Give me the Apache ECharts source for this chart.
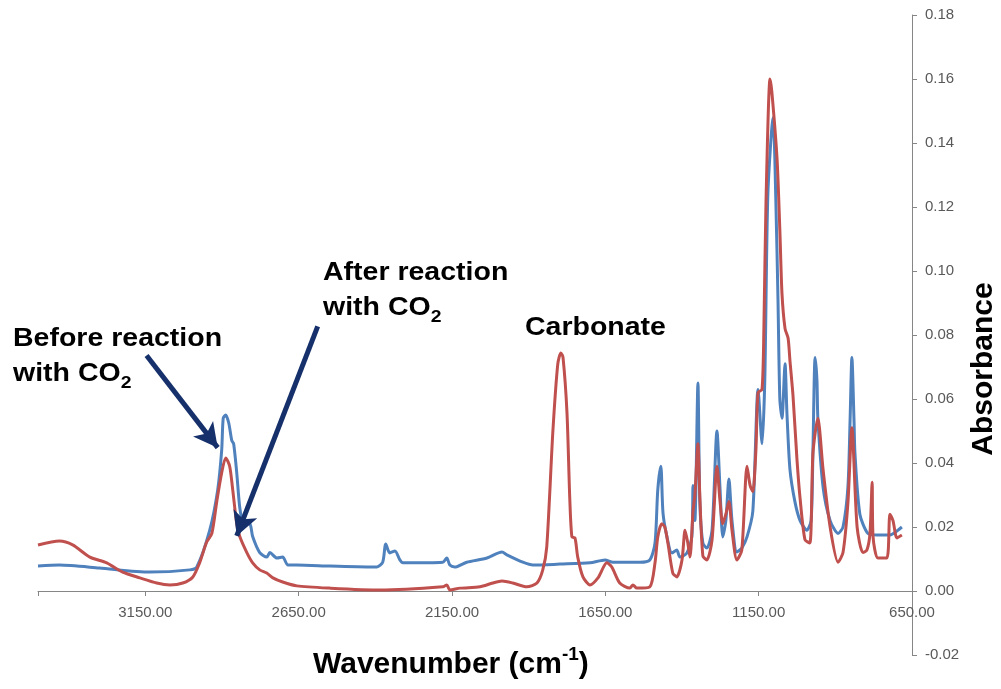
<!DOCTYPE html>
<html>
<head>
<meta charset="utf-8">
<script src="https://cdn.jsdelivr.net/npm/echarts@6/dist/echarts.min.js"></script>
<style>
  html, body { margin: 0; padding: 0; background: #fff; }
  #chart { width: 1001px; height: 689px; }
</style>
</head>
<body>
<div id="chart"></div>
<script>
  // x ticks (cm-1)
  const xTicks = [3150, 2650, 2150, 1650, 1150, 650];

  // before reaction with CO2 (blue)
  const beforeWn = [3500, 3430, 3300, 3136, 3005, 2982, 2940, 2914, 2901, 2896, 2888, 2878, 2868, 2862, 2852, 2842, 2832, 2809, 2800, 2777,
    2754, 2744, 2721, 2702, 2685, 2656, 2548, 2395, 2376, 2366, 2353, 2336, 2320, 2310, 2180, 2167, 2157, 2141, 2102, 2036,
    1987, 1971, 1919, 1886, 1798, 1700, 1651, 1625, 1537, 1505, 1488, 1479, 1469, 1462, 1449, 1433, 1417, 1407, 1384, 1368,
    1364, 1358, 1348, 1342, 1332, 1319, 1302, 1286, 1276, 1267, 1257, 1247, 1237, 1221, 1205, 1188, 1169, 1152, 1139, 1130,
    1120, 1103, 1094, 1087, 1081, 1074, 1064, 1058, 1048, 1032, 1015, 993, 979, 973, 966, 960, 957, 940, 917, 891,
    875, 859, 852, 846, 839, 836, 820, 794, 764, 722, 696, 683];
  const beforeAbs = [0.0078, 0.0081, 0.0072, 0.0059, 0.0066, 0.0075, 0.019, 0.0316, 0.044, 0.054, 0.055, 0.0525, 0.047, 0.046, 0.037, 0.026, 0.022, 0.021, 0.017, 0.012,
    0.0106, 0.012, 0.0103, 0.0106, 0.0081, 0.0081, 0.0078, 0.0075, 0.009, 0.0147, 0.0119, 0.0125, 0.0097, 0.0088, 0.009, 0.0103, 0.0081, 0.0075, 0.009, 0.0103,
    0.0122, 0.0113, 0.009, 0.0081, 0.0084, 0.0088, 0.0097, 0.009, 0.009, 0.0097, 0.015, 0.0316, 0.039, 0.0244, 0.0169, 0.0119, 0.0128, 0.0106, 0.0119, 0.0169,
    0.033, 0.022, 0.065, 0.028, 0.015, 0.0134, 0.019, 0.050, 0.032, 0.0169, 0.022, 0.035, 0.022, 0.0122, 0.0134, 0.0169, 0.025, 0.063, 0.046, 0.066,
    0.124, 0.148, 0.122, 0.091, 0.060, 0.054, 0.071, 0.056, 0.038, 0.028, 0.022, 0.019, 0.022, 0.044, 0.073, 0.066, 0.054, 0.0325, 0.022, 0.018,
    0.020, 0.0325, 0.053, 0.073, 0.053, 0.043, 0.024, 0.018, 0.0175, 0.0175, 0.019, 0.020];

  // after reaction with CO2 (red)
  const afterWn = [3500, 3430, 3387, 3331, 3276, 3224, 3168, 3113, 3070, 3028, 2995, 2973, 2950, 2933, 2917, 2901, 2888, 2875, 2865, 2852,
    2842, 2819, 2800, 2777, 2754, 2734, 2702, 2656, 2550, 2385, 2180, 2167, 2157, 2124, 2059, 2017, 1987, 1952, 1906, 1873,
    1854, 1841, 1821, 1805, 1795, 1788, 1775, 1766, 1759, 1749, 1740, 1723, 1700, 1674, 1645, 1629, 1603, 1570, 1560, 1547,
    1505, 1488, 1479, 1466, 1456, 1446, 1430, 1417, 1400, 1390, 1381, 1374, 1364, 1358, 1348, 1342, 1332, 1319, 1302, 1286,
    1276, 1267, 1257, 1247, 1237, 1221, 1205, 1188, 1178, 1169, 1159, 1152, 1139, 1133, 1126, 1113, 1107, 1090, 1081, 1074,
    1064, 1054, 1048, 1038, 1025, 1015, 999, 983, 973, 957, 940, 917, 891, 875, 859, 846, 829, 810, 797, 787,
    780, 777, 761, 732, 722, 712, 699, 683];
  const afterAbs = [0.0144, 0.0156, 0.0144, 0.0106, 0.0088, 0.0059, 0.0041, 0.0025, 0.0019, 0.0025, 0.0044, 0.0088, 0.0153, 0.018, 0.028, 0.037, 0.0416, 0.039, 0.0316, 0.021,
    0.017, 0.012, 0.0088, 0.0066, 0.0056, 0.0041, 0.0028, 0.0016, 0.0009, 0.0003, 0.0013, 0.0019, 0.0003, 0.0009, 0.0013, 0.0025, 0.0031, 0.0025, 0.0013, 0.0025,
    0.0066, 0.0138, 0.050, 0.071, 0.0744, 0.073, 0.0556, 0.029, 0.0169, 0.0166, 0.0106, 0.0044, 0.0019, 0.0041, 0.0088, 0.0075, 0.0025, 0.0009, 0.0019, 0.0009,
    0.0013, 0.0088, 0.0169, 0.021, 0.020, 0.015, 0.0056, 0.0044, 0.0097, 0.019, 0.015, 0.0106, 0.025, 0.030, 0.046, 0.030, 0.011, 0.0097, 0.016, 0.039,
    0.028, 0.021, 0.024, 0.028, 0.019, 0.0097, 0.0128, 0.039, 0.033, 0.031, 0.044, 0.062, 0.063, 0.082, 0.122, 0.160, 0.156, 0.135, 0.113, 0.093,
    0.082, 0.079, 0.072, 0.061, 0.041, 0.029, 0.016, 0.015, 0.043, 0.054, 0.038, 0.020, 0.009, 0.012, 0.0275, 0.051, 0.020, 0.012, 0.0128, 0.018,
    0.034, 0.017, 0.0103, 0.0103, 0.024, 0.022, 0.0166, 0.0175];

  // annotation arrows, [wavenumber, absorbance] from -> to
  const arrowBefore = [[3146, 0.0736], [2914, 0.0448]];
  const arrowAfter = [[2588, 0.0827], [2852, 0.0172]];

  const zip = (xs, ys) => xs.map((x, i) => [x, ys[i]]);
  const arrowLine = pair => [{ coord: pair[0], symbol: "none" }, { coord: pair[1], symbol: "arrow" }];

  const chart = echarts.init(document.getElementById("chart"));

  const font = '"Liberation Sans", Arial, sans-serif';
  const noteMain = { fontFamily: font, fontWeight: "bold", fontSize: 25, lineHeight: 35, fill: "#000" };
  const noteSub = { fontFamily: font, fontWeight: "bold", fontSize: 17, lineHeight: 17, verticalAlign: "bottom", fill: "#000" };

  const option = {
    animation: false,
    grid: { left: 38, right: 89, top: 15, bottom: 34, outerBoundsMode: "none" },
    xAxis: {
      type: "value",
      inverse: true,
      min: 650,
      max: 3500,
      interval: 500,
      axisLine: { onZero: true, lineStyle: { color: "#868686", width: 1 } },
      axisTick: { show: true, length: 5, lineStyle: { color: "#868686" } },
      axisLabel: {
        color: "#595959",
        fontFamily: font,
        fontSize: 15,
        margin: -50,
        formatter: v => (xTicks.indexOf(v) >= 0 ? v.toFixed(2) : "")
      },
      splitLine: { show: false }
    },
    yAxis: {
      type: "value",
      position: "right",
      min: -0.02,
      max: 0.18,
      interval: 0.02,
      axisLine: { show: true, lineStyle: { color: "#868686", width: 1 } },
      axisTick: { show: true, length: 5, lineStyle: { color: "#868686" } },
      axisLabel: {
        color: "#595959",
        fontFamily: font,
        fontSize: 15,
        margin: 13,
        formatter: v => v.toFixed(2)
      },
      splitLine: { show: false }
    },
    series: [
      {
        name: "Before reaction with CO2",
        type: "line",
        data: zip(beforeWn, beforeAbs),
        showSymbol: false,
        smooth: 0.25,
        lineStyle: { color: "#4F81BD", width: 3 },
        itemStyle: { color: "#4F81BD" },
        markLine: {
          silent: true,
          symbolSize: [19, 24],
          label: { show: false },
          lineStyle: { color: "#16306B", width: 5, type: "solid" },
          data: [arrowLine(arrowBefore), arrowLine(arrowAfter)]
        }
      },
      {
        name: "After reaction with CO2",
        type: "line",
        data: zip(afterWn, afterAbs),
        showSymbol: false,
        smooth: 0.25,
        lineStyle: { color: "#C0504D", width: 3 },
        itemStyle: { color: "#C0504D" }
      }
    ],
    graphic: [
      {
        type: "text", left: 13, top: 327, scaleX: 1.14,
        style: { text: "{a|Before reaction}\n{a|with CO}{s|2}", rich: { a: noteMain, s: noteSub } }
      },
      {
        type: "text", left: 323, top: 261, scaleX: 1.14,
        style: { text: "{a|After reaction}\n{a|with CO}{s|2}", rich: { a: noteMain, s: noteSub } }
      },
      {
        type: "text", left: 525, top: 316, scaleX: 1.14,
        style: { text: "Carbonate", fontFamily: font, fontWeight: "bold", fontSize: 25, fill: "#000" }
      },
      {
        type: "text", left: 313, top: 645,
        style: {
          text: "{a|Wavenumber (cm}{s|-1}{a|)}",
          rich: {
            a: { fontFamily: font, fontWeight: "bold", fontSize: 30, lineHeight: 40, fill: "#000" },
            s: { fontFamily: font, fontWeight: "bold", fontSize: 19, lineHeight: 19, verticalAlign: "top", fill: "#000" }
          }
        }
      },
      {
        type: "text", x: 984, y: 369, rotation: Math.PI / 2,
        style: {
          text: "Absorbance", fontFamily: font, fontWeight: "bold", fontSize: 30, fill: "#000",
          align: "center", verticalAlign: "middle"
        }
      }
    ]
  };

  chart.setOption(option);
  window.addEventListener("resize", () => chart.resize());
</script>
</body>
</html>
